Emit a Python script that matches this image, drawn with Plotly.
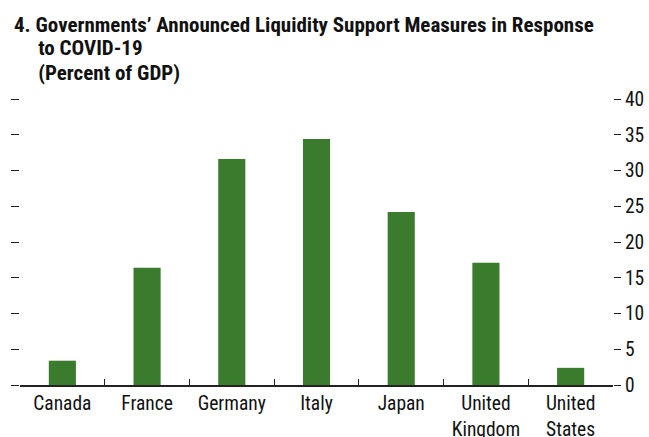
import plotly.graph_objects as go

categories = ["Canada", "France", "Germany", "Italy", "Japan", "United<br>Kingdom", "United<br>States"]
values = [3.4, 16.4, 31.6, 34.4, 24.2, 17.1, 2.4]
y_ticks = [0, 5, 10, 15, 20, 25, 30, 35, 40]
title_lines = ["4. Governments’ Announced Liquidity Support Measures in Response",
               "\u00a0\u00a0\u00a0\u00a0\u00a0to COVID-19",
               "\u00a0\u00a0\u00a0\u00a0\u00a0(Percent of GDP)"]

FONT = "Roboto Condensed, DejaVu Sans Condensed, sans-serif"
GREEN = "#3A7B2D"
INK = "#111111"

fig = go.Figure()
fig.add_trace(go.Bar(x=categories, y=values, marker=dict(color=GREEN, line=dict(width=0)),
                     hoverinfo="x+y"))
fig.add_trace(go.Scatter(x=categories, y=values, yaxis="y2", mode="markers",
                         marker=dict(opacity=0), hoverinfo="skip", showlegend=False))

W, H = 649, 437
ml, mr, mt, mb = 20, 36, 99, 52
pw = W - ml - mr
ph = H - mt - mb

def px_x(x):
    return (x - ml) / pw

def px_y(y):
    return 1 + (mt - y) / ph

title_y = [24.5, 48.5, 73]
anns = []
for txt, ty in zip(title_lines, title_y):
    anns.append(dict(xref="paper", yref="paper", x=px_x(12), y=px_y(ty),
                     xanchor="left", yanchor="middle", align="left", showarrow=False,
                     text=f"<b>{txt}</b>", font=dict(family=FONT, size=21, color=INK)))

fig.update_layout(
    width=W, height=H,
    margin=dict(l=ml, r=mr, t=mt, b=mb, pad=0, autoexpand=False),
    paper_bgcolor="white", plot_bgcolor="white",
    showlegend=False,
    bargap=0.68,
    font=dict(family=FONT, size=19, color=INK),
    xaxis=dict(type="category", range=[-0.5, 6.5], tickson="boundaries",
               ticks="inside", ticklen=6, tickwidth=1.2, tickcolor="#222222",
               showline=True, linecolor="#222222", linewidth=1.5,
               showgrid=False, zeroline=False, tickangle=0,
               tickfont=dict(family=FONT, size=19.5, color=INK)),
    yaxis=dict(range=[0, 40], tickvals=y_ticks, ticks="outside", ticklen=8,
               tickwidth=1.2, tickcolor="#222222",
               showticklabels=False, showline=False, showgrid=False, zeroline=False),
    yaxis2=dict(range=[0, 40], tickvals=y_ticks, overlaying="y", side="right",
                ticks="outside", ticklen=7, tickwidth=1.2, tickcolor="#222222",
                showline=False, showgrid=False, zeroline=False,
                tickfont=dict(family=FONT, size=19.5, color=INK)),
    annotations=anns,
)

fig.write_html("out.html", config={"displayModeBar": False},
               post_script="document.body.style.margin='0';document.body.style.padding='0';")
